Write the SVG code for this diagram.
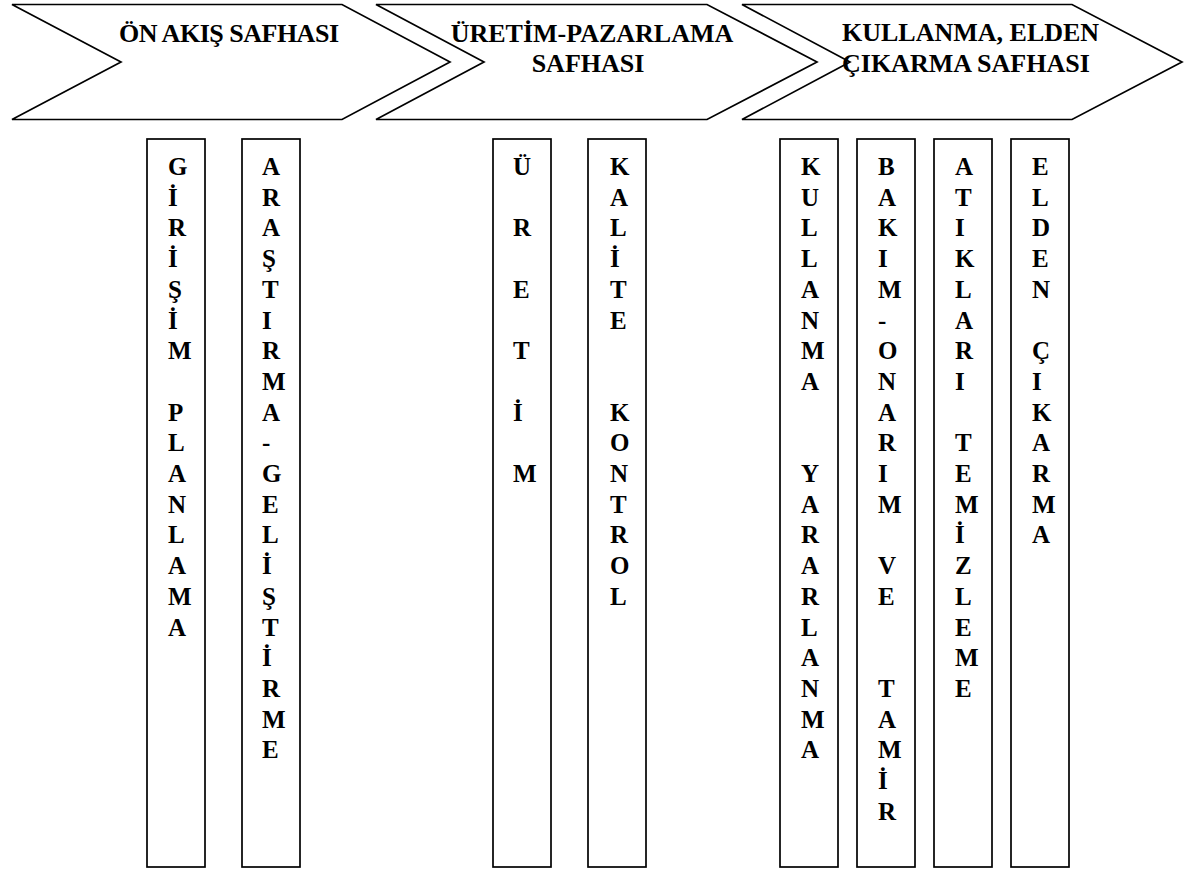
<svg xmlns="http://www.w3.org/2000/svg" width="1199" height="870" viewBox="0 0 1199 870">
<style>
.shape{fill:#fff;stroke:#000;stroke-width:1.7;stroke-linejoin:miter}
.title{font-family:"Liberation Serif","Times New Roman",serif;font-weight:bold;font-size:26px;fill:#000}
.col{font-family:"Liberation Serif","Times New Roman",serif;font-weight:bold;font-size:25px;fill:#000}
</style>
<rect x="0" y="0" width="1199" height="870" fill="#fff"/>
<g id="phase1">
<polygon class="shape" points="12,4.5 342,4.5 450,62 342,119.5 12,119.5 121,62"/>
<text class="title" x="119" y="42" textLength="220">ÖN AKIŞ SAFHASI</text>
</g>
<g id="phase2">
<polygon class="shape" points="376,4.5 707,4.5 817,62 707,119.5 376,119.5 484,62"/>
<text class="title" text-anchor="middle"><tspan x="592" y="42">ÜRETİM-PAZARLAMA</tspan><tspan x="588" y="72">SAFHASI</tspan></text>
</g>
<g id="phase3">
<polygon class="shape" points="742,4.5 1072,4.5 1182,62 1072,119.5 742,119.5 850,62"/>
<text class="title"><tspan x="842" y="41">KULLANMA, ELDEN</tspan><tspan x="842" y="72">ÇIKARMA SAFHASI</tspan></text>
</g>
<g id="girisim-planlama">
<rect class="shape" x="147" y="139" width="58" height="728"/>
<text class="col"><tspan x="168" y="175">G</tspan><tspan x="168" y="205.7">İ</tspan><tspan x="168" y="236.4">R</tspan><tspan x="168" y="267.1">İ</tspan><tspan x="168" y="297.8">Ş</tspan><tspan x="168" y="328.5">İ</tspan><tspan x="168" y="359.2">M</tspan><tspan x="168" y="420.6">P</tspan><tspan x="168" y="451.3">L</tspan><tspan x="168" y="482">A</tspan><tspan x="168" y="512.7">N</tspan><tspan x="168" y="543.4">L</tspan><tspan x="168" y="574.1">A</tspan><tspan x="168" y="604.8">M</tspan><tspan x="168" y="635.5">A</tspan></text>
</g>
<g id="arastirma-gelistirme">
<rect class="shape" x="242" y="139" width="58" height="728"/>
<text class="col"><tspan x="262" y="175">A</tspan><tspan x="262" y="205.7">R</tspan><tspan x="262" y="236.4">A</tspan><tspan x="262" y="267.1">Ş</tspan><tspan x="262" y="297.8">T</tspan><tspan x="262" y="328.5">I</tspan><tspan x="262" y="359.2">R</tspan><tspan x="262" y="389.9">M</tspan><tspan x="262" y="420.6">A</tspan><tspan x="262" y="451.3">-</tspan><tspan x="262" y="482">G</tspan><tspan x="262" y="512.7">E</tspan><tspan x="262" y="543.4">L</tspan><tspan x="262" y="574.1">İ</tspan><tspan x="262" y="604.8">Ş</tspan><tspan x="262" y="635.5">T</tspan><tspan x="262" y="666.2">İ</tspan><tspan x="262" y="696.9">R</tspan><tspan x="262" y="727.6">M</tspan><tspan x="262" y="758.3">E</tspan></text>
</g>
<g id="uretim">
<rect class="shape" x="493" y="139" width="58" height="728"/>
<text class="col"><tspan x="513" y="175">Ü</tspan><tspan x="513" y="236.4">R</tspan><tspan x="513" y="297.8">E</tspan><tspan x="513" y="359.2">T</tspan><tspan x="513" y="420.6">İ</tspan><tspan x="513" y="482">M</tspan></text>
</g>
<g id="kalite-kontrol">
<rect class="shape" x="588" y="139" width="58" height="728"/>
<text class="col"><tspan x="610" y="175">K</tspan><tspan x="610" y="205.7">A</tspan><tspan x="610" y="236.4">L</tspan><tspan x="610" y="267.1">İ</tspan><tspan x="610" y="297.8">T</tspan><tspan x="610" y="328.5">E</tspan><tspan x="610" y="420.6">K</tspan><tspan x="610" y="451.3">O</tspan><tspan x="610" y="482">N</tspan><tspan x="610" y="512.7">T</tspan><tspan x="610" y="543.4">R</tspan><tspan x="610" y="574.1">O</tspan><tspan x="610" y="604.8">L</tspan></text>
</g>
<g id="kullanma-yararlanma">
<rect class="shape" x="780" y="139" width="58" height="728"/>
<text class="col"><tspan x="801" y="175">K</tspan><tspan x="801" y="205.7">U</tspan><tspan x="801" y="236.4">L</tspan><tspan x="801" y="267.1">L</tspan><tspan x="801" y="297.8">A</tspan><tspan x="801" y="328.5">N</tspan><tspan x="801" y="359.2">M</tspan><tspan x="801" y="389.9">A</tspan><tspan x="801" y="482">Y</tspan><tspan x="801" y="512.7">A</tspan><tspan x="801" y="543.4">R</tspan><tspan x="801" y="574.1">A</tspan><tspan x="801" y="604.8">R</tspan><tspan x="801" y="635.5">L</tspan><tspan x="801" y="666.2">A</tspan><tspan x="801" y="696.9">N</tspan><tspan x="801" y="727.6">M</tspan><tspan x="801" y="758.3">A</tspan></text>
</g>
<g id="bakim-onarim-tamir">
<rect class="shape" x="857" y="139" width="58" height="728"/>
<text class="col"><tspan x="878" y="175">B</tspan><tspan x="878" y="205.7">A</tspan><tspan x="878" y="236.4">K</tspan><tspan x="878" y="267.1">I</tspan><tspan x="878" y="297.8">M</tspan><tspan x="878" y="328.5">-</tspan><tspan x="878" y="359.2">O</tspan><tspan x="878" y="389.9">N</tspan><tspan x="878" y="420.6">A</tspan><tspan x="878" y="451.3">R</tspan><tspan x="878" y="482">I</tspan><tspan x="878" y="512.7">M</tspan><tspan x="878" y="574.1">V</tspan><tspan x="878" y="604.8">E</tspan><tspan x="878" y="696.9">T</tspan><tspan x="878" y="727.6">A</tspan><tspan x="878" y="758.3">M</tspan><tspan x="878" y="789">İ</tspan><tspan x="878" y="819.7">R</tspan></text>
</g>
<g id="atiklari-temizleme">
<rect class="shape" x="934" y="139" width="58" height="728"/>
<text class="col"><tspan x="955" y="175">A</tspan><tspan x="955" y="205.7">T</tspan><tspan x="955" y="236.4">I</tspan><tspan x="955" y="267.1">K</tspan><tspan x="955" y="297.8">L</tspan><tspan x="955" y="328.5">A</tspan><tspan x="955" y="359.2">R</tspan><tspan x="955" y="389.9">I</tspan><tspan x="955" y="451.3">T</tspan><tspan x="955" y="482">E</tspan><tspan x="955" y="512.7">M</tspan><tspan x="955" y="543.4">İ</tspan><tspan x="955" y="574.1">Z</tspan><tspan x="955" y="604.8">L</tspan><tspan x="955" y="635.5">E</tspan><tspan x="955" y="666.2">M</tspan><tspan x="955" y="696.9">E</tspan></text>
</g>
<g id="elden-cikarma">
<rect class="shape" x="1011" y="139" width="58" height="728"/>
<text class="col"><tspan x="1032" y="175">E</tspan><tspan x="1032" y="205.7">L</tspan><tspan x="1032" y="236.4">D</tspan><tspan x="1032" y="267.1">E</tspan><tspan x="1032" y="297.8">N</tspan><tspan x="1032" y="359.2">Ç</tspan><tspan x="1032" y="389.9">I</tspan><tspan x="1032" y="420.6">K</tspan><tspan x="1032" y="451.3">A</tspan><tspan x="1032" y="482">R</tspan><tspan x="1032" y="512.7">M</tspan><tspan x="1032" y="543.4">A</tspan></text>
</g>
<g id="connectors"/>
</svg>
